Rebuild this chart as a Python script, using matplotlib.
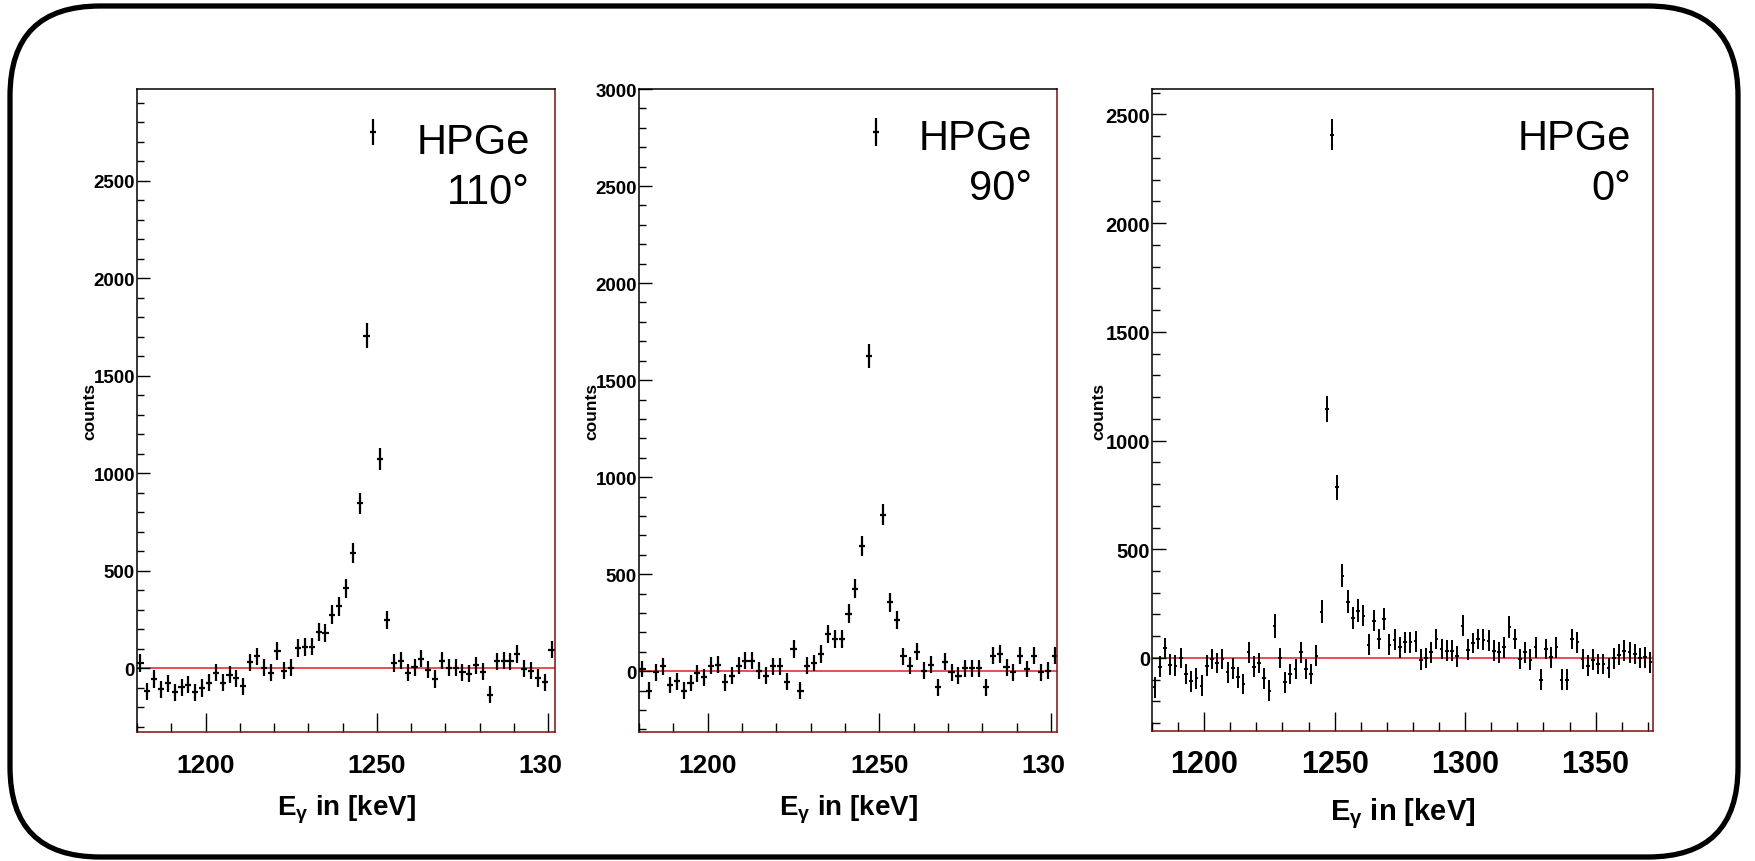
import numpy as np
import matplotlib
matplotlib.use("Agg")
import matplotlib.pyplot as plt
from matplotlib.patches import FancyBboxPatch
from matplotlib.ticker import MultipleLocator
from matplotlib.transforms import Bbox, TransformedBbox

plt.rcParams['font.family'] = ['Liberation Sans', 'DejaVu Sans']
plt.rcParams['mathtext.fontset'] = 'custom'
plt.rcParams['mathtext.rm'] = 'Liberation Sans:bold'
plt.rcParams['mathtext.it'] = 'Liberation Sans:bold'
plt.rcParams['mathtext.bf'] = 'Liberation Sans:bold'

# bin centres (2 keV bins)
bins1 = np.arange(1181, 1302, 2)
bins2 = np.arange(1181, 1302, 2)
bins3 = np.arange(1181, 1372, 2)

counts1 = [27, -118, -55, -109, -77, -123, -97, -84, -123, -101,
           -75, -24, -75, -34, -51, -92, 31, 62, 2, -24,
           87, -12, 2, 103, 108, 111, 185, 181, 275, 318,
           410, 591, 846, 1706, 2749, 1072, 248, 27, 39, -24,
           5, 48, -7, -55, 39, 2, 2, -21, -29, 14,
           -17, -135, 36, 39, 36, 73, -3, -12, -50, -72, 96]
errs1 = [44, 44, 44, 44, 44, 44, 44, 44, 44, 44,
         44, 44, 44, 44, 44, 44, 44, 44, 44, 44,
         45, 44, 44, 45, 45, 45, 46, 46, 48, 48,
         50, 52, 55, 62, 68, 56, 47, 44, 44, 44,
         44, 44, 44, 44, 44, 44, 44, 44, 44, 44,
         44, 44, 44, 44, 44, 44, 44, 44, 44, 44, 45]

counts2 = [12, -100, -5, 26, -71, -52, -100, -60, -10, -31,
           29, 34, -57, -22, 29, 55, 55, 3, -22, 26,
           26, -53, 115, -100, 29, 43, 89, 193, 167, 167,
           296, 425, 645, 1625, 2778, 807, 355, 263, 77, 29,
           101, 3, 34, -83, 50, -5, -22, 15, 15, 15,
           -83, 81, 89, 21, -5, 81, 12, 81, -5, 3, 81]
errs2 = [43, 43, 43, 43, 43, 43, 43, 43, 43, 43,
         43, 43, 43, 43, 43, 43, 43, 43, 43, 43,
         43, 43, 45, 43, 43, 43, 44, 46, 46, 46,
         48, 49, 52, 60, 72, 53, 48, 47, 44, 43,
         44, 43, 43, 43, 43, 43, 43, 43, 43, 43,
         43, 44, 44, 43, 43, 44, 43, 44, 43, 43, 44]

counts3 = [-135, -40, 44, -31, -35, 0, -74, -107, -94, -127,
           -35, -5, -23, -5, -66, -48, -89, -120, 26, -40,
           -23, -94, -150, 149, 0, -112, -74, -51, 26, -51,
           -74, 11, 213, 1145, 2407, 785, 379, 259, 184, 218,
           195, 61, 172, 87, 179, 61, 83, 49, 72, 72,
           77, -9, 0, 26, 87, 41, 34, 34, 8, 149,
           38, 69, 87, 83, 80, 34, 26, 49, 141, 87,
           -5, 26, -8, 49, -100, 41, 3, 49, -100, -100,
           87, 72, -5, -35, -8, -28, -28, -46, -2, 14,
           34, 26, 18, 0, 3, -20]
errs3 = [48, 48, 48, 48, 48, 48, 48, 48, 48, 48,
         48, 48, 48, 48, 48, 48, 48, 48, 48, 48,
         48, 48, 48, 55, 48, 48, 48, 48, 48, 48,
         48, 48, 52, 60, 70, 58, 54, 52, 50, 51,
         50, 48, 50, 48, 50, 48, 48, 48, 48, 48,
         48, 48, 48, 48, 48, 48, 48, 48, 48, 50,
         48, 48, 48, 48, 48, 48, 48, 48, 50, 48,
         48, 48, 48, 48, 48, 48, 48, 48, 48, 48,
         48, 48, 48, 48, 48, 48, 48, 48, 48, 48,
         48, 48, 48, 48, 48, 48]

angles = ['110°', '90°', '0°']
xlims = [(1180, 1302), (1180, 1301.7), (1180, 1372)]
ylims = [(-327, 2970), (-313, 3000), (-336, 2617)]

W, H = 1755, 862
fig = plt.figure(figsize=(W / 100, H / 100), dpi=100)

# rounded slide frame
bg = fig.add_axes([0, 0, 1, 1])
bg.set_xlim(0, W)
bg.set_ylim(H, 0)
bg.axis('off')
bg.add_patch(FancyBboxPatch((10, 7), 1728, 851,
                            boxstyle='round,pad=0,rounding_size=90',
                            fc='none', ec='black', lw=3.8))

# axes boxes in pixels: left, right, top, bottom
boxes = [(137, 555, 90, 733), (639, 1057, 90, 733), (1152, 1653, 90, 732)]
data = [(bins1, counts1, errs1), (bins2, counts2, errs2), (bins3, counts3, errs3)]

for i, ((l, r, t, b), (x, y, e)) in enumerate(zip(boxes, data)):
    ax = fig.add_axes([l / W, (H - b) / H, (r - l) / W, (b - t) / H])
    wide = i == 2
    ax.axhline(0, color='#e02020', lw=1.1, zorder=1)
    ax.errorbar(x, y, yerr=e, xerr=0.7 if wide else 0.9, fmt='none',
                ecolor='black', elinewidth=1.4 if wide else 1.6, capsize=0, zorder=2)
    ax.set_xlim(*xlims[i])
    ax.set_ylim(*ylims[i])

    ax.xaxis.set_major_locator(MultipleLocator(50))
    ax.xaxis.set_minor_locator(MultipleLocator(10))
    ax.yaxis.set_major_locator(MultipleLocator(500))
    ax.yaxis.set_minor_locator(MultipleLocator(100))
    ax.tick_params(axis='x', which='major', direction='in', length=13.5, width=1.0,
                   labelsize=22 if wide else 19, pad=13 if wide else 15)
    ax.tick_params(axis='x', which='minor', direction='in', length=6.8, width=1.0)
    ax.tick_params(axis='y', which='major', direction='in', length=10 if wide else 9.5,
                   width=1.0, labelsize=14.5 if wide else 13.5, pad=1.5)
    ax.tick_params(axis='y', which='minor', direction='in', length=5.5 if wide else 4.8, width=1.0)
    for lab in ax.get_xticklabels() + ax.get_yticklabels():
        lab.set_fontweight('bold')

    for side in ['left', 'top']:
        ax.spines[side].set_color('black')
    for side in ['right', 'bottom']:
        ax.spines[side].set_color('#7a1010')
    for s in ax.spines.values():
        s.set_linewidth(1.1)

    ax.set_ylabel('counts', fontsize=12.5, fontweight='bold')
    ax.yaxis.set_label_coords(-46 / (r - l) if wide else -40 / (r - l), 0.5)
    ax.set_xlabel(r'E$_{\gamma}$ in [keV]', fontsize=21 if wide else 20, fontweight='bold')
    ax.xaxis.set_label_coords(0.5, -0.095 if not wide else -0.10)

    tx = (r - 22 - l) / (r - l) if wide else (r - 25 - l) / (r - l)
    ax.text(tx, (b - 150) / (b - t) if i else (b - 154) / (b - t), 'HPGe',
            transform=ax.transAxes, ha='right', va='baseline', fontsize=30)
    ax.text(tx, (b - 200) / (b - t) if i else (b - 204) / (b - t), angles[i],
            transform=ax.transAxes, ha='right', va='baseline', fontsize=30)

    if not wide:
        clip = TransformedBbox(Bbox([[-0.5, -1.0], [1 + 7 / (r - l), 1.0]]), ax.transAxes)
        for lab in ax.get_xticklabels():
            lab.set_clip_on(True)
            lab.set_clip_box(clip)

fig.savefig('out.png', dpi=100)
